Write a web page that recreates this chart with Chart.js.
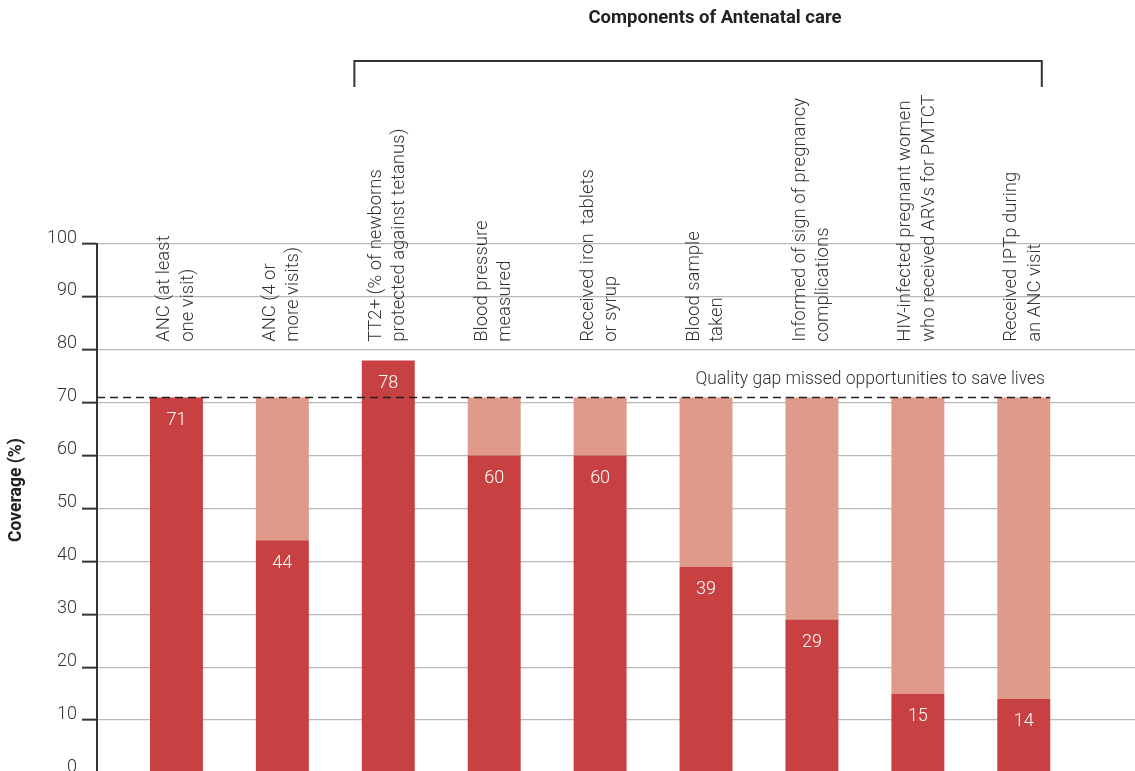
<!DOCTYPE html>
<html>
<head>
<meta charset="utf-8">
<script src="https://cdn.jsdelivr.net/npm/chart.js@4"></script>
<style>
  html, body { margin: 0; padding: 0; background: #fff; overflow: hidden; }
  canvas { display: block; }
</style>
</head>
<body>
<canvas id="grafico" width="1135" height="800"></canvas>
<script>
// valores
const categorias = [
    ["ANC (at least", "one visit)"],
    ["ANC (4 or", "more visits)"],
    ["TT2+ (% of newborns", "protected against tetanus)"],
    ["Blood pressure", "measured"],
    ["Received iron  tablets", "or syrup"],
    ["Blood sample", "taken"],
    ["Informed of sign of pregnancy", "complications"],
    ["HIV-infected pregnant women", "who received ARVs for PMTCT"],
    ["Received IPTp during", "an ANC visit"]
];
const cobertura = [71, 44, 78, 60, 60, 39, 29, 15, 14];
const referencia = 71;
const lacuna = cobertura.map(v => Math.max(referencia - v, 0));
const ticksY = [0, 10, 20, 30, 40, 50, 60, 70, 80, 90, 100];

const tituloTopo = "Components of Antenatal care";
const tituloY = "Coverage (%)";
const textoLacuna = "Quality gap missed opportunities to save lives";

const fonte = "Roboto, 'Open Sans', sans-serif";
const vermelho = "#C74042";
const rosa = "#DF9A8A";
const escuro = "#333333";

const extras = {
    id: "extras",
    afterDatasetsDraw(chart) {
        const ctx = chart.ctx;
        const x = chart.scales.x;
        const y = chart.scales.y;
        const area = chart.chartArea;

        // linha tracejada da referencia
        const yRef = y.getPixelForValue(referencia);
        ctx.save();
        ctx.strokeStyle = "#222";
        ctx.lineWidth = 1.5;
        ctx.setLineDash([8, 5]);
        ctx.beginPath();
        ctx.moveTo(area.left, yRef);
        ctx.lineTo(x.getPixelForValue(cobertura.length - 1 + 0.25), yRef);
        ctx.stroke();
        ctx.restore();

        ctx.save();
        ctx.fillStyle = escuro;
        ctx.font = "300 17.5px " + fonte;
        ctx.textAlign = "right";
        ctx.textBaseline = "alphabetic";
        ctx.fillText(textoLacuna, x.getPixelForValue(cobertura.length - 1 + 0.2), yRef - 13);
        ctx.restore();

        // valores dentro das barras
        const meta = chart.getDatasetMeta(0);
        ctx.save();
        ctx.fillStyle = "#fff";
        ctx.font = "300 18px " + fonte;
        ctx.textAlign = "center";
        ctx.textBaseline = "middle";
        meta.data.forEach((barra, i) => {
            ctx.fillText(String(cobertura[i]), barra.x, barra.y + 23);
        });
        ctx.restore();

        // rotulos das categorias, rotacionados
        ctx.save();
        ctx.fillStyle = escuro;
        ctx.font = "300 18.5px " + fonte;
        ctx.textAlign = "left";
        ctx.textBaseline = "middle";
        const yBase = y.getPixelForValue(81.5);
        categorias.forEach((linhas, i) => {
            const cx = x.getPixelForValue(i);
            ctx.save();
            ctx.translate(cx, yBase);
            ctx.rotate(-Math.PI / 2);
            linhas.forEach((linha, k) => {
                ctx.fillText(linha, 0, -12 + k * 23.5);
            });
            ctx.restore();
        });
        ctx.restore();

        // titulo do eixo y
        ctx.save();
        ctx.fillStyle = "#222";
        ctx.font = "bold 17.5px " + fonte;
        ctx.textAlign = "center";
        ctx.textBaseline = "middle";
        ctx.translate(17, 490);
        ctx.rotate(-Math.PI / 2);
        ctx.fillText(tituloY, 0, 0);
        ctx.restore();

        // titulo e chave do topo
        ctx.save();
        ctx.fillStyle = "#222";
        ctx.font = "bold 18.5px " + fonte;
        ctx.textAlign = "center";
        ctx.textBaseline = "middle";
        ctx.fillText(tituloTopo, 715, 18);
        const xa = x.getPixelForValue(2 - 0.32);
        const xb = x.getPixelForValue(8 + 0.17);
        ctx.strokeStyle = escuro;
        ctx.lineWidth = 2;
        ctx.beginPath();
        ctx.moveTo(xa, 87);
        ctx.lineTo(xa, 61);
        ctx.lineTo(xb, 61);
        ctx.lineTo(xb, 87);
        ctx.stroke();
        ctx.restore();
    }
};

new Chart(document.querySelector("#grafico"), {
    type: "bar",
    data: {
        datasets: [
            {
                label: "Coverage",
                data: cobertura.map((v, i) => ({ x: i, y: v })),
                backgroundColor: vermelho,
                barPercentage: 0.5,
                categoryPercentage: 1
            },
            {
                label: "Gap",
                data: lacuna.map((v, i) => ({ x: i, y: v })),
                backgroundColor: rosa,
                barPercentage: 0.5,
                categoryPercentage: 1
            }
        ]
    },
    options: {
        responsive: false,
        animation: false,
        layout: { padding: { top: 244, bottom: 27, left: 0, right: 0 } },
        plugins: {
            legend: { display: false },
            tooltip: { enabled: false }
        },
        scales: {
            x: {
                type: "linear",
                stacked: true,
                offset: false,
                min: -0.75,
                max: 9.05,
                afterBuildTicks: s => { s.ticks = cobertura.map((v, i) => ({ value: i })); },
                display: false
            },
            y: {
                stacked: true,
                min: 0,
                max: 100,
                afterFit: s => { s.width = 97; },
                afterBuildTicks: s => { s.ticks = ticksY.map(v => ({ value: v })); },
                border: { display: true, color: escuro, width: 2 },
                grid: {
                    color: "#b8b8b8",
                    lineWidth: 1.3,
                    drawTicks: true,
                    tickLength: 15,
                    tickColor: escuro,
                    tickWidth: 2
                },
                ticks: {
                    padding: 5,
                    labelOffset: -6,
                    color: escuro,
                    font: { family: fonte, size: 18, weight: 300 }
                }
            }
        }
    },
    plugins: [extras]
});
</script>
</body>
</html>
